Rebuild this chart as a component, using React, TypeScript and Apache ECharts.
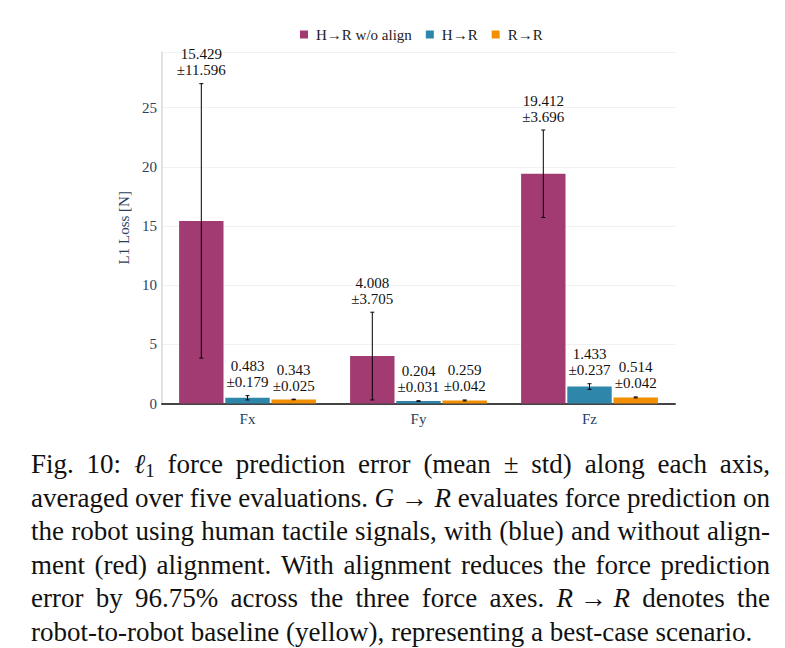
import React, { useEffect, useRef } from "react";
import * as echarts from "echarts";

const categories = ["Fx", "Fy", "Fz"];
const seriesNames = ["H→R w/o align", "H→R", "R→R"];
const seriesColors = ["#A23B72", "#2E86AB", "#F18F01"];
const woAlignMean = [15.429, 4.008, 19.412];
const woAlignStd = [11.596, 3.705, 3.696];
const alignMean = [0.483, 0.204, 1.433];
const alignStd = [0.179, 0.031, 0.237];
const robotMean = [0.343, 0.259, 0.514];
const robotStd = [0.025, 0.042, 0.042];
const yAxisMax = 29.7;
const yAxisInterval = 5;

const captionLines = [
  "Fig. 10: *ℓ*_1 force prediction error (mean ± std) along each axis,",
  "averaged over five evaluations. *G*~→~*R* evaluates force prediction on",
  "the robot using human tactile signals, with (blue) and without align-",
  "ment (red) alignment. With alignment reduces the force prediction",
  "error by 96.75% across the three force axes. *R*~→~*R* denotes the",
  "robot-to-robot baseline (yellow), representing a best-case scenario.",
];

const SERIF = "Liberation Serif";
const AXIS_COLOR = "#2a3f5f";

type Seg = { t: string; it?: boolean; sub?: boolean };

function parseToken(tok: string): Seg[] {
  return tok
    .split(/(\*[^*]+\*|_\d)/)
    .filter((p) => p.length > 0)
    .map((p) => {
      if (p.startsWith("*")) return { t: p.slice(1, -1), it: true };
      if (p.startsWith("_")) return { t: p.slice(1), sub: true };
      return { t: p.replace(/~/g, " ") };
    });
}

function buildCaption(): any[] {
  const fontSize = 27;
  const left = 31;
  const right = 770;
  const top = 464;
  const step = 33.6;
  const canvas = document.createElement("canvas");
  const ctx = canvas.getContext("2d")!;
  const segSize = (s: Seg) => (s.sub ? Math.round(fontSize * 0.7) : fontSize);
  const segWidth = (s: Seg) => {
    ctx.font = `${s.it ? "italic " : ""}${segSize(s)}px ${SERIF}`;
    return ctx.measureText(s.t).width;
  };
  ctx.font = `${fontSize}px ${SERIF}`;
  const spaceW = ctx.measureText(" ").width;
  const els: any[] = [];
  captionLines.forEach((line, li) => {
    const tokens = line.split(" ").map(parseToken);
    const widths = tokens.map((segs) => segs.reduce((a, s) => a + segWidth(s), 0));
    const total = widths.reduce((a, b) => a + b, 0);
    const isLast = li === captionLines.length - 1;
    const gap = isLast ? spaceW : (right - left - total) / (tokens.length - 1);
    let x = left;
    const y = top + li * step;
    tokens.forEach((segs, ti) => {
      let sx = x;
      segs.forEach((s) => {
        const style: any = {
          text: s.t,
          textAlign: "left",
          textVerticalAlign: "middle",
          fontFamily: SERIF,
          fontSize: segSize(s),
          fill: "#111",
        };
        if (s.it) style.fontStyle = "italic";
        els.push({ type: "text", x: sx, y: s.sub ? y + 6 : y, style });
        sx += segWidth(s);
      });
      x += widths[ti] + gap;
    });
  });
  return els;
}

export default function App() {
  const ref = useRef<HTMLDivElement>(null);
  useEffect(() => {
    if (!ref.current) return;
    const chart = echarts.init(ref.current, undefined, { renderer: "svg" });
    const means = [woAlignMean, alignMean, robotMean];
    const stds = [woAlignStd, alignStd, robotStd];
    const errData: number[][] = [];
    means.forEach((m, si) =>
      m.forEach((v, ci) => errData.push([ci, si, v, stds[si][ci]]))
    );
    const captionEls = buildCaption();
    const CAT_GAP = 0.2;
    const BAR_GAP = 0.04;
    const option: any = {
      animation: false,
      backgroundColor: "#fff",
      legend: {
        data: seriesNames,
        top: 22,
        left: 295,
        icon: "rect",
        itemWidth: 8,
        itemHeight: 8,
        itemGap: 14,
        textStyle: { fontFamily: SERIF, fontSize: 15, color: "#222", padding: [0, 0, 0, 3] },
      },
      grid: { left: 162, right: 110, top: 52, bottom: 244.5, containLabel: false },
      xAxis: {
        type: "category",
        data: categories,
        axisTick: { show: false },
        axisLine: { lineStyle: { color: "#444", width: 2 } },
        axisLabel: { fontFamily: SERIF, fontSize: 15, color: AXIS_COLOR, margin: 8 },
      },
      yAxis: {
        type: "value",
        min: 0,
        max: yAxisMax,
        interval: yAxisInterval,
        name: "L1 Loss [N]",
        nameLocation: "middle",
        nameGap: 30,
        nameTextStyle: { fontFamily: SERIF, fontSize: 15, color: AXIS_COLOR },
        axisLine: { show: true, lineStyle: { color: "#d8d8d8", width: 1.5 } },
        axisTick: { show: false },
        splitLine: { lineStyle: { color: "#f1f1f1", width: 1 } },
        axisLabel: {
          fontFamily: SERIF,
          fontSize: 15,
          color: AXIS_COLOR,
          margin: 5,
          showMaxLabel: false,
          formatter: (v: number) => (v % yAxisInterval === 0 ? String(v) : ""),
        },
      },
      series: [
        ...seriesNames.map((name, si) => ({
          name,
          type: "bar",
          data: means[si],
          barCategoryGap: `${CAT_GAP * 100}%`,
          barGap: `${BAR_GAP * 100}%`,
          itemStyle: { color: seriesColors[si] },
        })),
        {
          type: "custom",
          name: "err",
          data: errData,
          encode: { x: 0, y: 2 },
          z: 10,
          clip: false,
          renderItem: (params: any, api: any) => {
            const cat = api.value(0);
            const si = api.value(1);
            const mean = api.value(2);
            const sd = api.value(3);
            const band = api.size([1, 0])[0];
            const w = (band * (1 - CAT_GAP)) / (3 + 2 * BAR_GAP);
            const offset = (si - 1) * w * (1 + BAR_GAP);
            const top = api.coord([cat, mean + sd]);
            const bot = api.coord([cat, Math.max(mean - sd, 0)]);
            const x = top[0] + offset;
            const c = 2;
            const st = { stroke: "#000", lineWidth: 1 };
            return {
              type: "group",
              children: [
                { type: "line", shape: { x1: x, y1: top[1], x2: x, y2: bot[1] }, style: st },
                { type: "line", shape: { x1: x - c, y1: top[1], x2: x + c, y2: top[1] }, style: st },
                { type: "line", shape: { x1: x - c, y1: bot[1], x2: x + c, y2: bot[1] }, style: st },
                {
                  type: "text",
                  x,
                  y: top[1] - 5.5,
                  style: {
                    text: `${mean.toFixed(3)}\n±${sd.toFixed(3)}`,
                    textAlign: "center",
                    textVerticalAlign: "bottom",
                    fontFamily: SERIF,
                    fontSize: 15,
                    lineHeight: 16,
                    fill: "#111",
                  },
                },
              ],
            };
          },
        },
        {
          type: "custom",
          name: "caption",
          coordinateSystem: "none",
          data: [0],
          clip: false,
          renderItem: () => ({ type: "group", children: captionEls }),
        },
      ],
    };
    chart.setOption(option);
    return () => chart.dispose();
  }, []);
  return (
    <div
      ref={ref}
      style={{ position: "absolute", left: 0, top: 0, width: 785, height: 648, background: "#fff" }}
    />
  );
}
